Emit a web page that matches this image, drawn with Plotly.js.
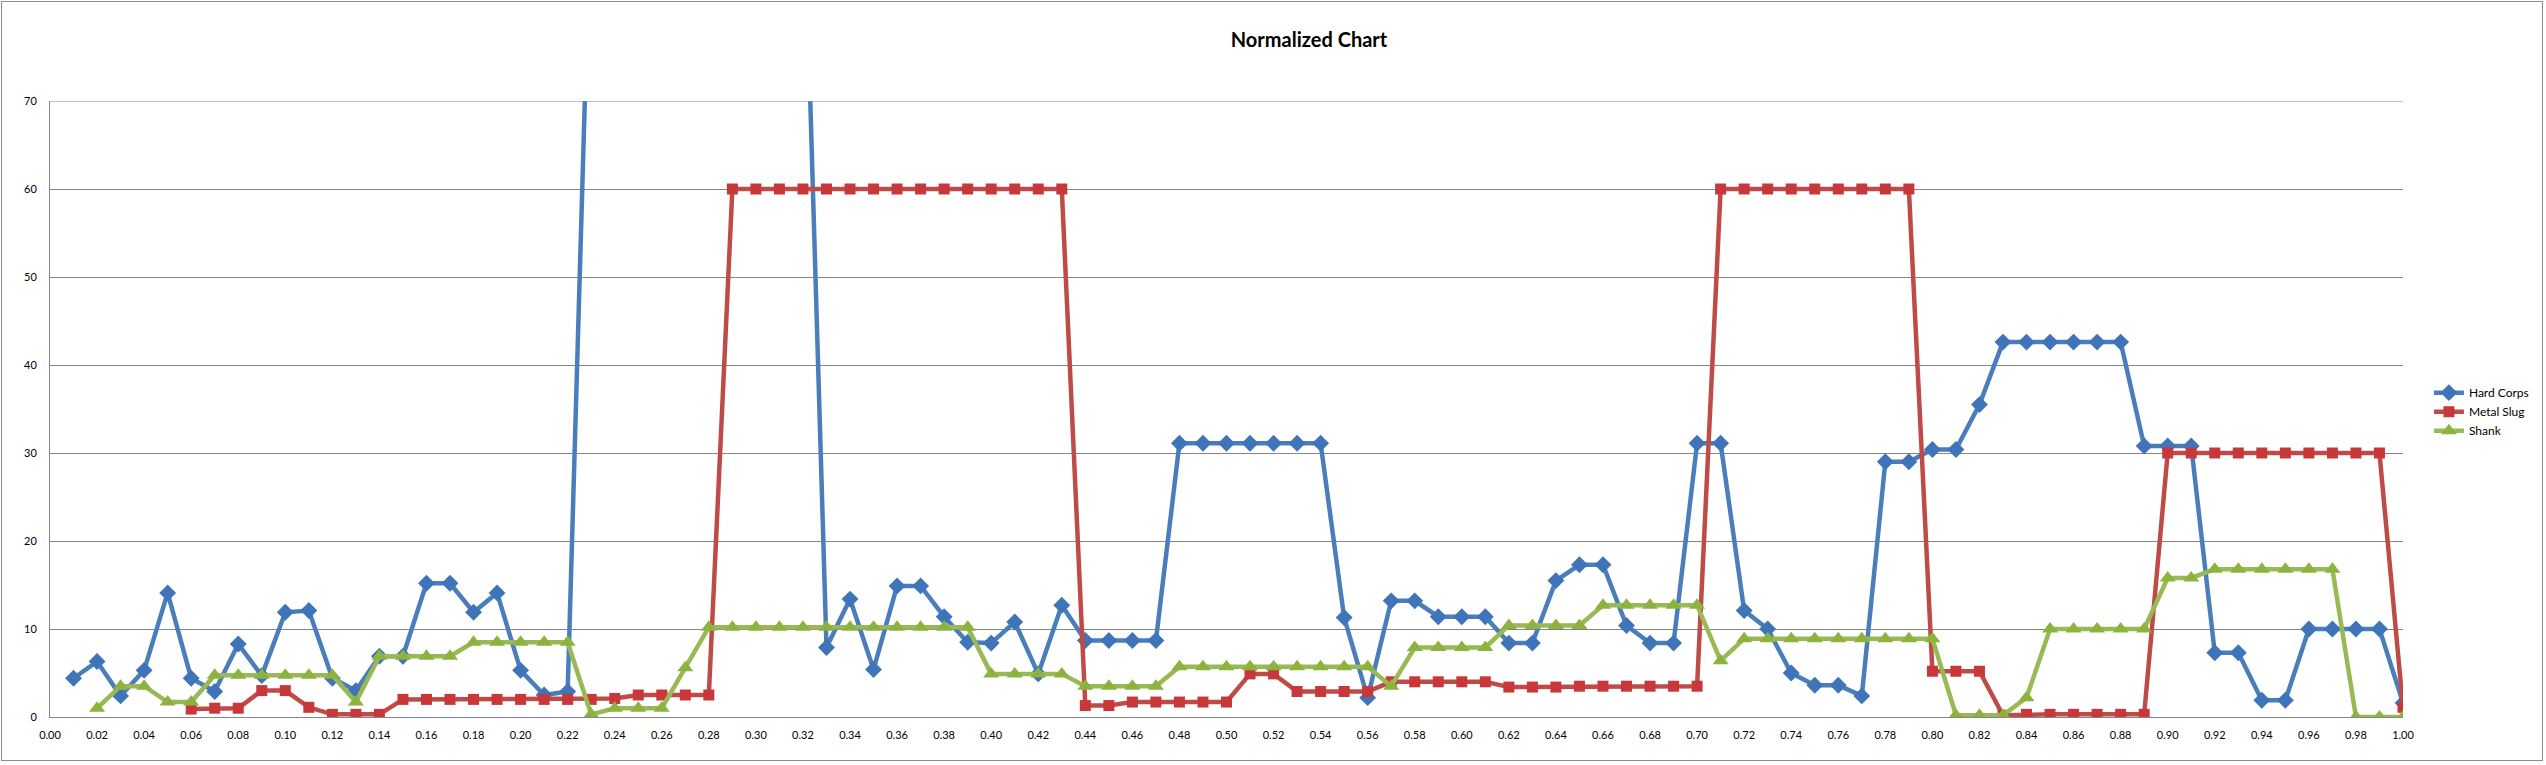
<!DOCTYPE html>
<html>
<head>
<meta charset="utf-8">
<script src="https://cdn.plot.ly/plotly-3.0.1.min.js"></script>
<style>
  html, body { margin: 0; padding: 0; background: #fff; }
  #chart { width: 2546px; height: 765px; position: relative; }
  #frame { position: absolute; left: 1px; top: 1px; width: 2542px; height: 760px;
           border: 1px solid #8c8c8c; pointer-events: none; box-sizing: border-box; }
</style>
</head>
<body>
<div id="chart"></div>
<div id="frame"></div>
<script>
// X categories (normalized position)
const xValues = [
  0.01,0.02,0.03,0.04,0.05,0.06,0.07,0.08,0.09,0.10,
  0.11,0.12,0.13,0.14,0.15,0.16,0.17,0.18,0.19,0.20,
  0.21,0.22,0.23,0.24,0.25,0.26,0.27,0.28,0.29,0.30,
  0.31,0.32,0.33,0.34,0.35,0.36,0.37,0.38,0.39,0.40,
  0.41,0.42,0.43,0.44,0.45,0.46,0.47,0.48,0.49,0.50,
  0.51,0.52,0.53,0.54,0.55,0.56,0.57,0.58,0.59,0.60,
  0.61,0.62,0.63,0.64,0.65,0.66,0.67,0.68,0.69,0.70,
  0.71,0.72,0.73,0.74,0.75,0.76,0.77,0.78,0.79,0.80,
  0.81,0.82,0.83,0.84,0.85,0.86,0.87,0.88,0.89,0.90,
  0.91,0.92,0.93,0.94,0.95,0.96,0.97,0.98,0.99,1.00
];

const hardCorps = [
  4.4,6.3,2.4,5.3,14.1,4.4,2.9,8.3,4.7,11.9,
  12.1,4.4,3.0,6.9,6.9,15.2,15.2,11.9,14.1,5.3,
  2.5,2.9,95,96,96,96,96,96,97,97,
  97,98,7.9,13.4,5.4,14.9,14.9,11.4,8.5,8.4,
  10.8,4.9,12.7,8.7,8.7,8.7,8.7,31.1,31.1,31.1,
  31.1,31.1,31.1,31.1,11.3,2.2,13.2,13.2,11.4,11.4,
  11.4,8.4,8.4,15.5,17.3,17.3,10.4,8.4,8.4,31.1,
  31.1,12.1,10.0,5.0,3.6,3.6,2.4,29.0,29.0,30.4,
  30.4,35.5,42.6,42.6,42.6,42.6,42.6,42.6,30.8,30.8,
  30.8,7.3,7.3,1.9,1.9,10.0,10.0,10.0,10.0,1.6
];

const metalSlug = [
  null,null,null,null,null,0.9,1.0,1.0,3.0,3.0,
  1.1,0.3,0.3,0.3,2.0,2.0,2.0,2.0,2.0,2.0,
  2.0,2.0,2.0,2.1,2.5,2.5,2.5,2.5,60,60,
  60,60,60,60,60,60,60,60,60,60,
  60,60,60,1.3,1.3,1.7,1.7,1.7,1.7,1.7,
  4.9,4.9,2.9,2.9,2.9,2.9,4.0,4.0,4.0,4.0,
  4.0,3.4,3.4,3.4,3.5,3.5,3.5,3.5,3.5,3.5,
  60,60,60,60,60,60,60,60,60,5.2,
  5.2,5.2,0.2,0.3,0.3,0.3,0.3,0.3,0.3,30,
  30,30,30,30,30,30,30,30,30,1.1
];

const shank = [
  null,1.0,3.5,3.5,1.7,1.7,4.75,4.75,4.75,4.75,
  4.75,4.75,1.7,6.9,6.9,6.9,6.9,8.5,8.5,8.5,
  8.5,8.5,0.3,1.0,1.0,1.0,5.6,10.2,10.2,10.2,
  10.2,10.2,10.2,10.2,10.2,10.2,10.2,10.2,10.2,4.9,
  4.9,4.9,4.9,3.5,3.5,3.5,3.5,5.7,5.7,5.7,
  5.7,5.7,5.7,5.7,5.7,5.7,3.5,7.9,7.9,7.9,
  7.9,10.4,10.4,10.4,10.4,12.7,12.7,12.7,12.7,12.7,
  6.4,8.9,8.9,8.9,8.9,8.9,8.9,8.9,8.9,8.9,
  0.2,0.2,0.2,2.2,10.0,10.0,10.0,10.0,10.0,15.8,
  15.8,16.8,16.8,16.8,16.8,16.8,16.8,0,0,0
];

const seriesNames = ["Hard Corps", "Metal Slug", "Shank"];
const chartTitle = "Normalized Chart";

const FONT = "Lato, 'Open Sans', 'DejaVu Sans', sans-serif";

function trace(name, y, lineColor, markerColor, symbol, size) {
  return {
    type: "scatter", mode: "lines+markers", name: name,
    x: xValues, y: y,
    line: { color: lineColor, width: 4.5 },
    marker: { color: markerColor, symbol: symbol, size: size, line: { width: 0 } },
    cliponaxis: true
  };
}

const data = [
  trace(seriesNames[0], hardCorps, "#4A7EBB", "#3F74B8", "diamond", 13),
  trace(seriesNames[1], metalSlug, "#BE4B48", "#C8383A", "square", 11),
  trace(seriesNames[2], shank, "#98B954", "#8DB33F", "triangle-up", 14)
];

const layout = {
  width: 2546, height: 765,
  paper_bgcolor: "#ffffff", plot_bgcolor: "#ffffff",
  margin: { l: 50, r: 136, t: 101, b: 48, pad: 0 },
  font: { family: FONT, size: 11, color: "#000" },
  title: {
    text: chartTitle,
    font: { family: FONT, size: 20, color: "#000", weight: "bold" },
    x: 1309 / 2546, xref: "container", xanchor: "center",
    y: 1 - 40 / 765, yref: "container", yanchor: "middle"
  },
  xaxis: {
    range: [0, 1], tickmode: "linear", tick0: 0, dtick: 0.02, tickformat: ".2f",
    showgrid: false, zeroline: false, showline: true, linecolor: "#868686", linewidth: 1,
    ticks: "outside", ticklen: 8, tickcolor: "rgba(0,0,0,0)",
    tickfont: { family: FONT, size: 11, color: "#000" }, fixedrange: true
  },
  yaxis: {
    range: [0, 70], tickmode: "linear", tick0: 0, dtick: 10,
    showgrid: true, gridcolor: "#868686", gridwidth: 1,
    zeroline: false, showline: true, linecolor: "#868686", linewidth: 1,
    ticks: "outside", ticklen: 10, tickcolor: "rgba(0,0,0,0)",
    tickfont: { family: FONT, size: 11, color: "#000" }, fixedrange: true
  },
  shapes: [
    { type: "line", xref: "paper", yref: "y", x0: 0, x1: 1, y0: 70, y1: 70,
      line: { color: "#868686", width: 1 } }
  ],
  showlegend: true,
  legend: {
    x: (2436 - 50) / 2360, xanchor: "left",
    y: (716.7 - 378) / 615.7, yanchor: "top",
    font: { family: FONT, size: 12, color: "#000" },
    bgcolor: "rgba(0,0,0,0)", borderwidth: 0, tracegroupgap: 0
  }
};

Plotly.newPlot("chart", data, layout, { displayModeBar: false, staticPlot: true });
</script>
</body>
</html>
